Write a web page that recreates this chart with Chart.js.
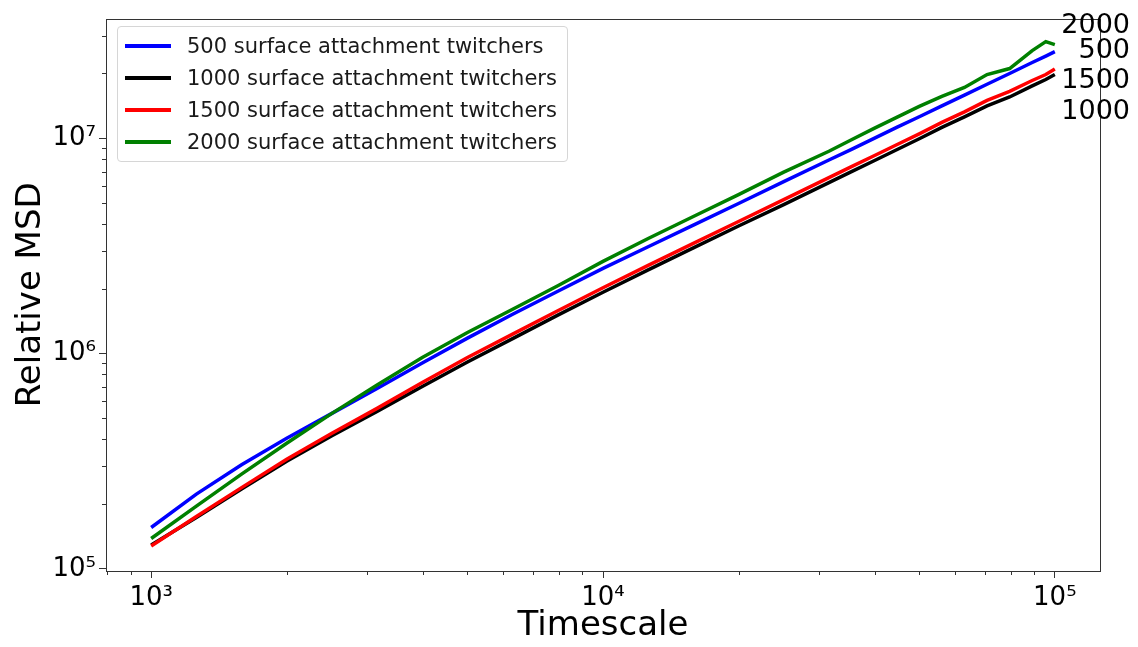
<!DOCTYPE html>
<html>
<head>
<meta charset="utf-8">
<script src="https://cdn.jsdelivr.net/npm/chart.js@4.4.0/dist/chart.umd.min.js"></script>
<style>
    html, body { margin: 0; padding: 0; background: #fff; }
    .chart-wrapper { position: relative; width: 1138px; height: 647px; }
    .legend-box {
        position: absolute; left: 117px; top: 26px; width: 451px;
        padding: 3px 0; box-sizing: border-box;
        background: rgba(255, 255, 255, 0.8);
        border: 1px solid #d6d6d6; border-radius: 4px;
        font-family: 'DejaVu Sans', sans-serif; font-size: 21px; color: #1a1a1a;
    }
    .legend-box ul { list-style: none; margin: 0; padding: 0; }
    .legend-box li { display: flex; align-items: center; height: 32px; }
    .legend-box .handle { width: 46px; height: 3.5px; margin: 0 16px 0 7px; }
</style>
</head>
<body>
<div class="chart-wrapper">
    <canvas id="msdChart" width="1138" height="647"></canvas>
    <div class="legend-box" id="legend"></div>
</div>
<script>
// Timescale samples (x)
const timescale = [1000, 1259, 1585, 1995, 2512, 3162, 3981, 5012, 6310, 7943, 10000,
    12589, 15849, 19953, 25119, 31623, 35481, 39811, 44668, 50119, 56234, 63096,
    70795, 79433, 89125, 95499, 100000];

// Relative MSD per number of surface attachment twitchers
const msd500 = [1.556e5, 2.224e5, 3.046e5, 4.04e5, 5.275e5, 6.887e5, 9.04e5, 1.18e6, 1.524e6, 1.947e6, 2.488e6,
    3.136e6, 3.952e6, 4.98e6, 6.29e6, 7.93e6, 8.89e6, 9.99e6, 1.124e7, 1.259e7, 1.414e7, 1.587e7,
    1.782e7, 2.0e7, 2.249e7, 2.41e7, 2.528e7];
const msd1000 = [1.292e5, 1.731e5, 2.346e5, 3.162e5, 4.152e5, 5.389e5, 7.036e5, 9.13e5, 1.174e6, 1.508e6, 1.926e6,
    2.448e6, 3.095e6, 3.914e6, 4.922e6, 6.223e6, 6.998e6, 7.866e6, 8.846e6, 9.95e6, 1.124e7, 1.258e7,
    1.414e7, 1.556e7, 1.751e7, 1.876e7, 1.978e7];
const msd1500 = [1.278e5, 1.75e5, 2.384e5, 3.23e5, 4.264e5, 5.565e5, 7.34e5, 9.583e5, 1.231e6, 1.582e6, 2.021e6,
    2.569e6, 3.248e6, 4.107e6, 5.191e6, 6.565e6, 7.382e6, 8.3e6, 9.33e6, 1.049e7, 1.186e7, 1.327e7,
    1.5e7, 1.651e7, 1.856e7, 1.978e7, 2.098e7];
const msd2000 = [1.384e5, 1.957e5, 2.753e5, 3.831e5, 5.275e5, 7.148e5, 9.583e5, 1.252e6, 1.607e6, 2.064e6, 2.681e6,
    3.425e6, 4.33e6, 5.475e6, 6.96e6, 8.706e6, 9.84e6, 1.112e7, 1.251e7, 1.407e7, 1.564e7, 1.722e7,
    1.978e7, 2.109e7, 2.555e7, 2.812e7, 2.723e7];

const seriesLabels = ['500 surface attachment twitchers', '1000 surface attachment twitchers',
    '1500 surface attachment twitchers', '2000 surface attachment twitchers'];
const endLabels = ['2000', '500', '1500', '1000'];

const xTickValues = [1e3, 1e4, 1e5];
const xTickLabels = ['10³', '10⁴', '10⁵'];
const yTickValues = [1e5, 1e6, 1e7];
const yTickLabels = ['10⁵', '10⁶', '10⁷'];

const FONT = 'DejaVu Sans';
const toPoints = (ys) => ys.map((y, i) => ({ x: timescale[i], y: y }));

// frame, minor ticks and the labels at the line ends
const framePlugin = {
    id: 'framePlugin',
    afterDraw(chart) {
        const { ctx, chartArea: a, scales } = chart;
        ctx.save();
        ctx.strokeStyle = '#333';
        ctx.lineWidth = 1;
        ctx.strokeRect(Math.round(a.left) + 0.5, Math.round(a.top) + 0.5,
            Math.round(a.right - a.left), Math.round(a.bottom - a.top));

        ctx.beginPath();
        const minor = (scale, draw) => {
            const lo = Math.floor(Math.log10(scale.min));
            const hi = Math.ceil(Math.log10(scale.max));
            for (let e = lo; e <= hi; e++) {
                for (let k = 2; k <= 9; k++) {
                    const v = k * Math.pow(10, e);
                    if (v > scale.min && v < scale.max) draw(Math.round(scale.getPixelForValue(v)) + 0.5);
                }
            }
        };
        minor(scales.x, (px) => { ctx.moveTo(px, a.bottom); ctx.lineTo(px, a.bottom + 4); });
        minor(scales.y, (py) => { ctx.moveTo(a.left, py); ctx.lineTo(a.left - 4, py); });
        ctx.stroke();

        // labels next to the line ends
        const offsets = chart.options.plugins.framePlugin.labelOffsets;
        ctx.fillStyle = '#000';
        ctx.font = '27px "' + FONT + '"';
        ctx.textAlign = 'right';
        ctx.textBaseline = 'middle';
        endLabels.forEach((t, i) => {
            ctx.fillText(t, a.right + 30, a.top + offsets[i]);
        });
        ctx.restore();
    }
};

const ctx = document.getElementById('msdChart').getContext('2d');

const datasets = [
    { label: seriesLabels[0], data: toPoints(msd500), borderColor: '#0000ff', order: 4 },
    { label: seriesLabels[1], data: toPoints(msd1000), borderColor: '#000000', order: 3 },
    { label: seriesLabels[2], data: toPoints(msd1500), borderColor: '#ff0000', order: 2 },
    { label: seriesLabels[3], data: toPoints(msd2000), borderColor: '#008000', order: 1 },
].map(d => Object.assign(d, { borderWidth: 3.5, pointRadius: 0, fill: false, tension: 0 }));

const msdChart = new Chart(ctx, {
    type: 'line',
    data: { datasets },
    options: {
        responsive: false,
        animation: false,
        devicePixelRatio: 1,
        layout: { padding: { top: 16, right: 38, left: 0, bottom: 0 } },
        plugins: {
            legend: { display: false },
            tooltip: { enabled: false },
            framePlugin: { labelOffsets: [7, 32, 62, 93] },
        },
        scales: {
            x: {
                type: 'logarithmic',
                min: Math.pow(10, 2.9),
                max: Math.pow(10, 5.1),
                afterBuildTicks: (scale) => { scale.ticks = xTickValues.map(v => ({ value: v })); },
                afterFit: (scale) => { scale.height = 76; },
                ticks: {
                    autoSkip: false, maxRotation: 0, padding: 5,
                    color: '#000', font: { family: FONT, size: 26 },
                    callback: (value, index) => xTickLabels[index],
                },
                grid: { drawOnChartArea: false, tickLength: 7, tickColor: '#333', lineWidth: 1 },
                border: { display: false },
                title: {
                    display: true, text: 'Timescale', color: '#000',
                    font: { family: FONT, size: 34 }, padding: { top: 0, bottom: 0 },
                },
            },
            y: {
                type: 'logarithmic',
                min: Math.pow(10, 4.99),
                max: Math.pow(10, 7.556),
                afterBuildTicks: (scale) => { scale.ticks = yTickValues.map(v => ({ value: v })); },
                afterFit: (scale) => { scale.width = 106; },
                ticks: {
                    autoSkip: false, padding: 3,
                    color: '#000', font: { family: FONT, size: 26 },
                    callback: (value, index) => yTickLabels[index],
                },
                grid: { drawOnChartArea: false, tickLength: 7, tickColor: '#333', lineWidth: 1 },
                border: { display: false },
                title: {
                    display: true, text: 'Relative MSD', color: '#000',
                    font: { family: FONT, size: 34 }, padding: { top: 11, bottom: 0 },
                },
            },
        },
    },
    plugins: [framePlugin],
});

// Custom legend inside the plot
const legendEl = document.getElementById('legend');
legendEl.innerHTML = '<ul>' + datasets.map(d =>
    `<li><span class="handle" style="background:${d.borderColor}"></span><span>${d.label}</span></li>`
).join('') + '</ul>';
</script>
</body>
</html>
